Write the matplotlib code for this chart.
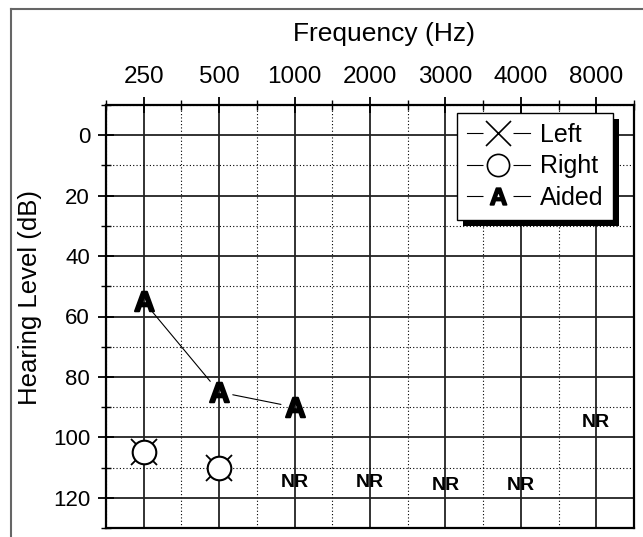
import matplotlib
matplotlib.use('Agg')
import matplotlib.pyplot as plt
from matplotlib.lines import Line2D
from matplotlib.patches import Shadow
from matplotlib.legend_handler import HandlerTuple
from matplotlib.ticker import MultipleLocator, FixedLocator

plt.rcParams['font.family'] = ['Liberation Sans', 'DejaVu Sans']
plt.rcParams['mathtext.fontset'] = 'custom'
plt.rcParams['mathtext.bf'] = 'Liberation Sans:bold'

# audiogram data
freqs = ['250', '500', '1000', '2000', '3000', '4000', '8000']
aided_freq = ['250', '500', '1000']
aided_hl = [55, 85, 90]
left_freq = ['250', '500']
left_hl = [105, 110]
right_freq = ['250', '500']
right_hl = [105, 110]
nr_freq = ['1000', '2000', '3000', '4000', '8000']
nr_hl = [115, 115, 116, 116, 95]

fig = plt.figure(figsize=(6.43, 5.37), dpi=100)
ax = fig.add_axes([106/643, 9/537, 528/643, 423/537])

xi = {f: i for i, f in enumerate(freqs)}

ax.set_xlim(-0.5, len(freqs) - 0.5)
ax.set_ylim(130, -10)

ax.xaxis.set_major_locator(FixedLocator(range(len(freqs))))
ax.xaxis.set_minor_locator(FixedLocator([i - 0.5 for i in range(len(freqs) + 1)]))
ax.set_xticklabels(freqs)
ax.yaxis.set_major_locator(MultipleLocator(20))
ax.yaxis.set_minor_locator(MultipleLocator(10))

ax.xaxis.tick_top()
ax.xaxis.set_label_position('top')
ax.tick_params(axis='both', which='major', direction='inout', length=11, width=1.3, color='k')
ax.tick_params(axis='both', which='minor', direction='inout', length=7, width=1.0, color='k')
ax.tick_params(axis='x', pad=7, labelsize=17.5)
ax.tick_params(axis='y', pad=6, labelsize=16)

ax.grid(which='major', color='#222222', lw=1.3, ls='-')
ax.grid(which='minor', color='k', lw=0.8, ls=(0, (1, 2)))
ax.set_axisbelow(True)
for s in ax.spines.values():
    s.set_linewidth(1.6)

ax.set_xlabel('Frequency (Hz)', fontsize=19)
ax.xaxis.set_label_coords(0.5256, 1.0 + 64/423)
ax.set_ylabel('Hearing Level (dB)', fontsize=18.5)
ax.yaxis.set_label_coords(-64/528, 0.546)

# aided line with gaps at the markers
ax_x = [xi[f] for f in aided_freq]
for k in range(len(ax_x) - 1):
    ax.annotate('', xy=(ax_x[k + 1], aided_hl[k + 1]), xytext=(ax_x[k], aided_hl[k]),
                arrowprops=dict(arrowstyle='-', lw=0.8, color='k', shrinkA=10, shrinkB=10))
ax.plot(ax_x, aided_hl, ls='none', marker=r'$\mathbf{A}$', ms=14, color='k',
        mew=1.5, zorder=5)

ax.plot([xi[f] for f in left_freq], left_hl, ls='none', marker='x', ms=19,
        mew=1.3, color='k', zorder=4)
ax.plot([xi[f] for f in right_freq], right_hl, ls='none', marker='o', ms=17,
        mfc='white', mec='k', mew=1.5, zorder=5)

for f, v in zip(nr_freq, nr_hl):
    ax.text(xi[f], v, 'NR', ha='center', va='center', fontsize=14,
            fontweight='bold', zorder=6)

# legend
line_h = Line2D([], [], color='k', lw=0.8)
blank_h = Line2D([], [], ls='none', marker='s', ms=21, mfc='white', mec='none')
left_h = Line2D([], [], ls='none', marker='x', ms=18, mew=1.2, color='k')
right_h = Line2D([], [], ls='none', marker='o', ms=16, mfc='white', mec='k', mew=1.2)
aided_h = Line2D([], [], ls='none', marker=r'$\mathbf{A}$', ms=12, color='k', mew=1.2)
leg = ax.legend([(line_h, blank_h, left_h), (line_h, blank_h, right_h),
                 (line_h, blank_h, aided_h)],
                ['Left', 'Right', 'Aided'],
                handler_map={tuple: HandlerTuple(ndivide=1)},
                loc='upper right', bbox_to_anchor=(507/528, 1 - 8/423),
                fontsize=18, frameon=True, fancybox=False, edgecolor='k',
                framealpha=1, handlelength=2.5, handletextpad=0.4,
                labelspacing=0.3, borderpad=0.4, borderaxespad=0)
leg.get_frame().set_linewidth(1.0)

fig.canvas.draw()
sh = Shadow(leg.legendPatch, 4, -4, facecolor='k', edgecolor='none', alpha=1)
sh.set_zorder(4.9)
ax.add_artist(sh)

# outer frame
fig.add_artist(Line2D([11/643, 11/643], [0, 1 - 9/537], color='#666666', lw=1.5,
                      transform=fig.transFigure))
fig.add_artist(Line2D([11/643, 1], [1 - 9/537, 1 - 9/537], color='#666666', lw=1.5,
                      transform=fig.transFigure))

fig.savefig('out.png', dpi=100)
